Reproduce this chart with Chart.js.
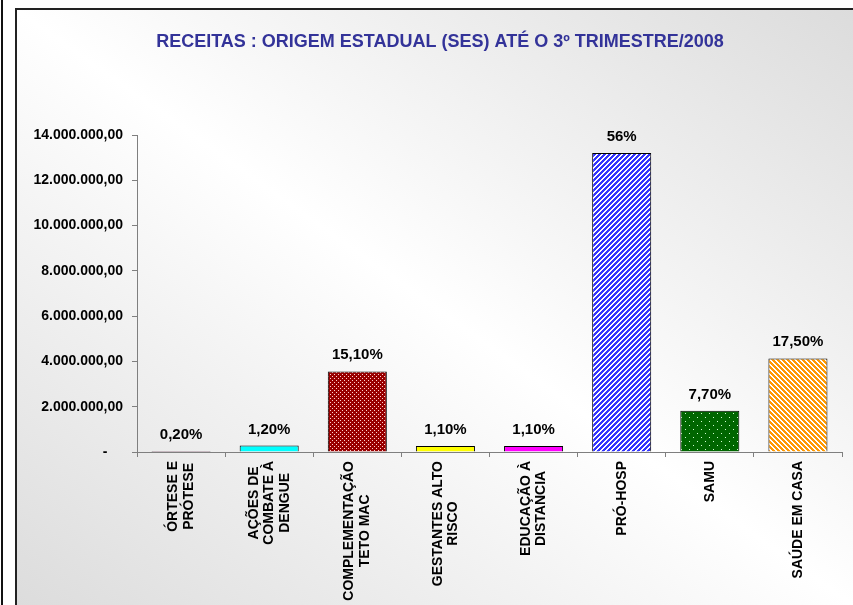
<!DOCTYPE html>
<html lang="pt-BR">
<head>
<meta charset="utf-8">
<title>Receitas SES 2008</title>
<script src="https://cdn.jsdelivr.net/npm/chart.js@4.4.1/dist/chart.umd.min.js"></script>
<style>
  html, body { margin: 0; padding: 0; width: 853px; height: 605px; overflow: hidden; background: #fff; }
  #linha  { position: absolute; left: 1px; top: 0; width: 2px; height: 605px; background: #111; }
  #quadro { position: absolute; left: 15px; top: 8px; width: 836px; height: 595px;
            border-left: 2px solid #222; border-top: 2px solid #222;
            background: linear-gradient(to top right, #dcdcdc 0%, #ffffff 50%, #dcdcdc 100%); }
  #grafico { position: absolute; left: 0; top: 0; }
</style>
</head>
<body>
<div id="linha"></div>
<div id="quadro"></div>
<canvas id="grafico" width="853" height="605"></canvas>
<script>
// Dados (valores em R$).
const categorias = [
  ['ÓRTESE E', 'PRÓTESE'],
  ['AÇÕES DE', 'COMBATE À', 'DENGUE'],
  ['COMPLEMENTAÇÃO', 'TETO MAC'],
  ['GESTANTES ALTO', 'RISCO'],
  ['EDUCAÇÃO À', 'DISTANCIA'],
  ['PRÓ-HOSP'],
  ['SAMU'],
  ['SAÚDE EM CASA']
];
const valores     = [47000, 283000, 3560000, 260000, 260000, 13200000, 1820000, 4130000];
const percentuais = ['0,20%', '1,20%', '15,10%', '1,10%', '1,10%', '56%', '7,70%', '17,50%'];
const yMax   = 14000000;
const yPasso = 2000000;

const titulo = 'RECEITAS : ORIGEM ESTADUAL (SES) ATÉ O 3º TRIMESTRE/2008';
const fonte  = '"Liberation Sans", Arial, sans-serif';

const canvas = document.getElementById('grafico');
const ctx = canvas.getContext('2d');

// Padrão de listras diagonais ('/' ou '\').
function listras(fundo, cor, tam, largura, sentido) {
  const c = document.createElement('canvas');
  c.width = c.height = tam;
  const g = c.getContext('2d');
  g.fillStyle = fundo;
  g.fillRect(0, 0, tam, tam);
  g.fillStyle = cor;
  for (let i = 0; i < tam; i++) {
    for (let j = 0; j < tam; j++) {
      const k = sentido === '/' ? (i + j) % tam : (i - j + tam) % tam;
      if (k < largura) g.fillRect(i, j, 1, 1);
    }
  }
  return ctx.createPattern(c, 'repeat');
}

// Padrão de pontos.
function pontos(fundo, cor, tam, lista) {
  const c = document.createElement('canvas');
  c.width = c.height = tam;
  const g = c.getContext('2d');
  g.fillStyle = fundo;
  g.fillRect(0, 0, tam, tam);
  g.fillStyle = cor;
  for (const [x, y] of lista) g.fillRect(x, y, 1, 1);
  return ctx.createPattern(c, 'repeat');
}

const cores = [
  '#993366',
  '#00ffff',
  pontos('#990000', '#ffd0d0', 4, [[0, 0], [2, 2]]),
  '#ffff00',
  '#ff00ff',
  listras('#3333ff', '#ffffff', 5, 2, '/'),
  pontos('#006600', '#d0ffd0', 8, [[1, 1], [5, 5]]),
  listras('#ff9900', '#ffffff', 5, 2, '\\')
];

// Formato brasileiro: 14.000.000,00 ; zero aparece como "-".
function formatoBR(v) {
  if (v === 0) return '-    ';
  return String(Math.round(v)).replace(/\B(?=(\d{3})+(?!\d))/g, '.') + ',00';
}

// Título, percentuais acima das barras e rótulos verticais do eixo X.
const rotulos = {
  id: 'rotulos',
  afterDatasetsDraw(chart) {
    const c = chart.ctx;
    const meta = chart.getDatasetMeta(0);
    c.save();

    c.fillStyle = '#333399';
    c.font = 'bold 18px ' + fonte;
    c.textAlign = 'center';
    c.textBaseline = 'middle';
    c.fillText(titulo, 440, 42);

    c.fillStyle = '#000';
    c.font = 'bold 15px ' + fonte;
    c.textBaseline = 'alphabetic';
    meta.data.forEach((bar, i) => c.fillText(percentuais[i], bar.x, bar.y - 12));

    const xs = chart.scales.x;
    c.font = 'bold 14px ' + fonte;
    c.textBaseline = 'middle';
    categorias.forEach((linhas, i) => {
      const x = xs.getPixelForValue(i);
      const w = Math.max(...linhas.map(l => c.measureText(l).width));
      c.save();
      c.translate(x, xs.top + 9);
      c.rotate(-Math.PI / 2);
      linhas.forEach((l, j) => c.fillText(l, -w / 2, (j - (linhas.length - 1) / 2) * 15.5));
      c.restore();
    });
    c.restore();
  }
};

new Chart(ctx, {
  type: 'bar',
  data: {
    labels: categorias.map(l => l.join(' ')),
    datasets: [{
      data: valores,
      backgroundColor: cores,
      borderColor: '#000',
      borderWidth: 1,
      barPercentage: 0.67,
      categoryPercentage: 1
    }]
  },
  options: {
    responsive: false,
    animation: false,
    layout: { padding: { left: 0, right: 11, top: 135, bottom: 0 } },
    plugins: {
      legend: { display: false },
      tooltip: { enabled: false },
      title: { display: false }
    },
    scales: {
      x: {
        grid: { display: true, drawOnChartArea: false, drawTicks: true, tickLength: 5, color: '#7f7f7f' },
        border: { display: true, color: '#7f7f7f', width: 1 },
        ticks: { display: false },
        afterFit(s) { s.height = 153; }
      },
      y: {
        min: 0,
        max: yMax,
        grid: { display: true, drawOnChartArea: false, drawTicks: true, tickLength: 5, color: '#7f7f7f' },
        border: { display: true, color: '#7f7f7f', width: 1 },
        ticks: {
          stepSize: yPasso,
          padding: 9,
          color: '#000',
          font: { family: fonte, size: 14, weight: 'bold' },
          callback: v => formatoBR(v)
        },
        afterFit(s) { s.width = 137; }
      }
    }
  },
  plugins: [rotulos]
});
</script>
</body>
</html>
